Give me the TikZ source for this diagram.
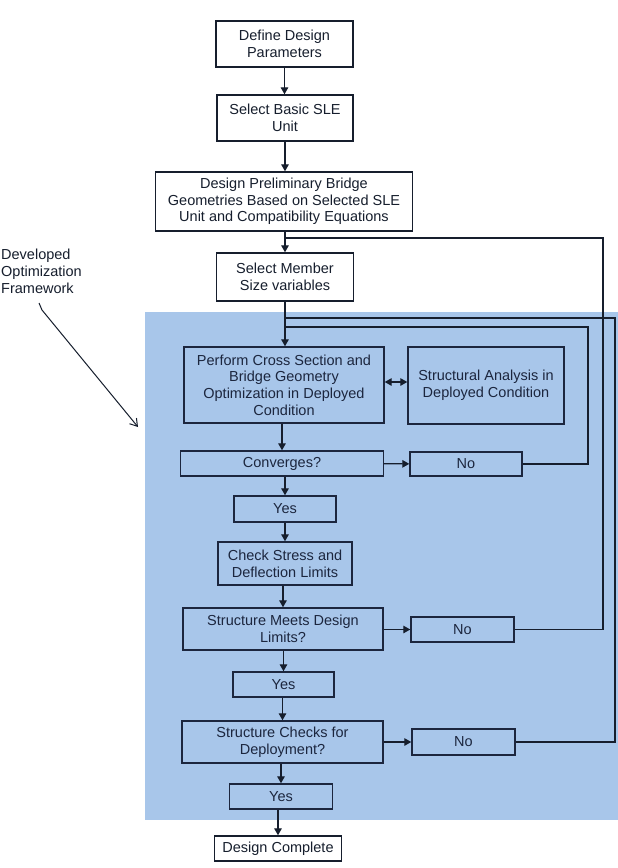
\documentclass[tikz,border=0pt]{standalone}
\usepackage{fontspec}
\setmainfont{Liberation Sans}
\usetikzlibrary{arrows.meta}
\definecolor{bgblue}{RGB}{168,198,234}
\definecolor{ink}{RGB}{22,30,45}
\definecolor{inkb}{RGB}{28,38,62}
\begin{document}
\begin{tikzpicture}[x=1pt,y=-1pt,
  box/.style={draw=ink,line width=1.4pt,inner sep=0pt,align=center,
    font=\fontsize{14.5}{16.7}\selectfont,text=ink},
  wbox/.style={box,fill=white},
  bbox/.style={box,draw=inkb,text=inkb},
  conn/.style={draw=ink,line width=1.3pt},
  arr/.style={conn,-{Triangle[length=7pt,width=7.5pt]}},
  darr/.style={conn,{Triangle[length=7pt,width=7.5pt]}-{Triangle[length=7pt,width=7.5pt]}}]
\useasboundingbox (0,0) rectangle (618,868);
\fill[white] (0,0) rectangle (618,868);
% blue framework region
\fill[bgblue] (145,312) rectangle (620,820);

% top boxes
\node[wbox,minimum width=137pt,minimum height=46pt] (def) at (284.5,44) {Define Design\\Parameters};
\node[wbox,minimum width=136pt,minimum height=46pt] (sle) at (285,118) {Select Basic SLE\\Unit};
\node[wbox,minimum width=257pt,minimum height=59pt] (pre) at (284,201.5) {Design Preliminary Bridge\\Geometries Based on Selected SLE\\Unit and Compatibility Equations};
\node[wbox,minimum width=137pt,minimum height=48pt] (mem) at (285,277) {Select Member\\Size variables};

% framework boxes
\node[bbox,minimum width=200pt,minimum height=76pt] (per) at (284,385) {Perform Cross Section and\\Bridge Geometry\\Optimization in Deployed\\Condition};
\node[bbox,minimum width=156pt,minimum height=77pt] (sta) at (486,385.5) {Structural Analysis in\\Deployed Condition};
\node[bbox,minimum width=203pt,minimum height=25pt] (con) at (282,463.5) {Converges?};
\node[bbox,minimum width=112pt,minimum height=24pt] (noc) at (466,464) {No};
\node[bbox,minimum width=102pt,minimum height=26pt] (ys1) at (285,509) {Yes};
\node[bbox,minimum width=134pt,minimum height=43pt] (chk) at (285,563.5) {Check Stress and\\Deflection Limits};
\node[bbox,minimum width=200pt,minimum height=42pt] (mts) at (283,629) {Structure Meets Design\\Limits?};
\node[bbox,minimum width=103pt,minimum height=25pt] (nom) at (462.5,629.5) {No};
\node[bbox,minimum width=101pt,minimum height=25pt] (ys2) at (283.5,684.5) {Yes};
\node[bbox,minimum width=201pt,minimum height=42pt] (dep) at (282.5,742) {Structure Checks for\\Deployment?};
\node[bbox,minimum width=103pt,minimum height=26pt] (nod) at (463.5,742) {No};
\node[bbox,minimum width=103pt,minimum height=25pt] (ys3) at (281,796.5) {Yes};
\node[wbox,minimum width=127pt,minimum height=25pt] (done) at (278,848.5) {Design Complete};

% label
\node[anchor=north west,align=left,inner sep=0pt,text=ink,
  font=\fontsize{14.5}{16.7}\selectfont] (lbl) at (1,249) {Developed\\Optimization\\Framework};
\coordinate (l0) at (39,303);
\coordinate (l1) at (42,310);
\coordinate (l2) at (138,427);
\draw[draw=ink,line width=1pt,-{Straight Barb[length=7pt,width=9pt]}] (l0) -- (l1) -- (l2);

% main column arrows
\draw[arr] (def) -- (def |- sle.north);
\draw[arr] (sle) -- (sle |- pre.north);
\draw[arr] (pre.south -| mem) -- (mem.north);
\draw[arr] (mem) -- (mem |- per.north);
\draw[arr] (per.south -| con) -- (con.north);
\draw[arr] (con.south -| ys1) -- (ys1.north);
\draw[arr] (ys1) -- (ys1 |- chk.north);
\draw[arr] (chk.south -| mts) -- (mts.north);
\draw[arr] (mts.south -| ys2) -- (ys2.north);
\draw[arr] (ys2.south -| dep) -- (dep.north);
\draw[arr] (dep.south -| ys3) -- (ys3.north);
\draw[arr] (ys3.south -| done) -- (done.north);

% side arrows
\draw[darr] (per.east |- 0,382) -- (sta.west |- 0,382);
\draw[arr] (con) -- (noc);
\draw[arr] (mts.east |- nom) -- (nom.west);
\draw[arr] (dep) -- (nod);

% feedback loops
\coordinate (ja) at (285,238);
\coordinate (jb) at (285,318);
\coordinate (jc) at (285,327);
\draw[conn] (nom.east) -| (603,238) -- (ja);
\draw[conn] (nod.east) -| (615,318) -- (jb);
\draw[conn] (noc.east) -| (588,327) -- (jc);
\end{tikzpicture}
\end{document}
